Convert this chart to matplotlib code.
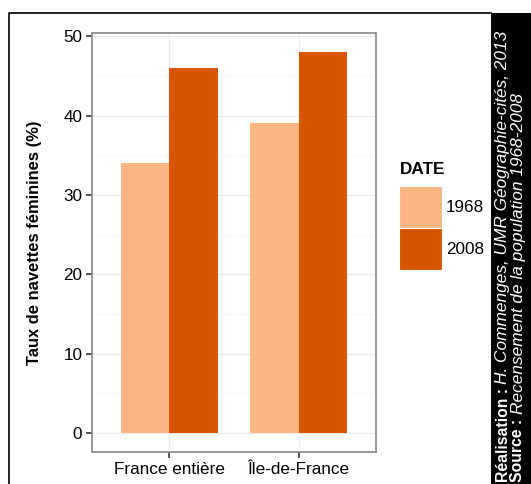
import numpy as np
import matplotlib
matplotlib.use("Agg")
import matplotlib.pyplot as plt
from matplotlib.patches import Rectangle
from matplotlib.lines import Line2D

plt.rcParams['font.family'] = ['Liberation Sans', 'DejaVu Sans']

# data
categories = ["France entière", "Île-de-France"]
years = ["1968", "2008"]
values_1968 = [34, 39]
values_2008 = [46, 48]
colors = ["#FDB584", "#D55500"]

W, H = 531, 484
fig = plt.figure(figsize=(W / 100, H / 100), dpi=100)

# panel
ax = fig.add_axes([92 / W, 1 - 452 / H, 284 / W, 419 / H])
x = np.arange(1, len(categories) + 1)
bw = 0.375
ax.bar(x - bw / 2, values_1968, width=bw, color=colors[0], zorder=2)
ax.bar(x + bw / 2, values_2008, width=bw, color=colors[1], zorder=2)

ymax = max(max(values_1968), max(values_2008))
ax.set_ylim(-0.05 * ymax, 1.05 * ymax)
ax.set_xlim(0.4, 2.6)
ax.set_yticks(range(0, 51, 10))
ax.set_yticks(range(5, 50, 10), minor=True)
ax.set_xticks(x)
ax.set_xticklabels(categories)
ax.grid(True, which="major", color="#EBEBEB", linewidth=0.9, zorder=0)
ax.grid(True, which="minor", axis="y", color="#F5F5F5", linewidth=0.6, zorder=0)
ax.tick_params(axis="both", which="major", length=4, width=1.2, color="#333333",
               labelsize=12.3, labelcolor="black", pad=3)
ax.tick_params(axis="y", which="minor", length=0)
for s in ax.spines.values():
    s.set_color("#888888")
    s.set_linewidth(1.2)
ax.set_ylabel("Taux de navettes féminines (%)", fontsize=11.9, fontweight="bold")
ax.yaxis.set_label_coords(-0.176, 0.5)

# legend
fs = 12.3
fig.text(400 / W, 1 - 170 / H, "DATE", fontsize=fs, fontweight="bold", va="center", ha="left")
for i, (yr, c) in enumerate(zip(years, colors)):
    top = 186 + i * 42
    fig.patches.append(Rectangle((399 / W, 1 - (top + 42) / H), 43 / W, 42 / H,
                                 facecolor=c, edgecolor="white", linewidth=0.8,
                                 transform=fig.transFigure, figure=fig))
    fig.text(446 / W, 1 - (top + 22) / H, yr, fontsize=fs, va="center", ha="left")

# frame and credits band
cfs = 11.3
ifs = 12.4
fig.add_artist(Line2D([8.5 / W, 8.5 / W, 491 / W], [0, 1 - 13 / H, 1 - 13 / H],
                      color="black", linewidth=1.2, transform=fig.transFigure))
fig.patches.append(Rectangle((491 / W, 0), 40 / W, 1 - 13 / H, facecolor="black",
                             edgecolor="none", transform=fig.transFigure, figure=fig))
t1 = fig.text(503 / W, 2 / H, "Réalisation : ", color="white", fontsize=cfs,
              fontweight="bold", rotation=90, ha="center", va="bottom")
fig.canvas.draw()
r = fig.canvas.get_renderer()
bb = t1.get_window_extent(r)
fig.text(503 / W, bb.y1 / H, "H. Commenges, UMR Géographie-cités, 2013", color="white",
         fontsize=ifs, style="italic", rotation=90, ha="center", va="bottom")
t2 = fig.text(518 / W, 2 / H, "Source : ", color="white", fontsize=cfs,
              fontweight="bold", rotation=90, ha="center", va="bottom")
bb2 = t2.get_window_extent(r)
fig.text(518 / W, bb2.y1 / H, "Recensement de la population 1968-2008", color="white",
         fontsize=ifs, style="italic", rotation=90, ha="center", va="bottom")

fig.savefig("out.png", dpi=100)
